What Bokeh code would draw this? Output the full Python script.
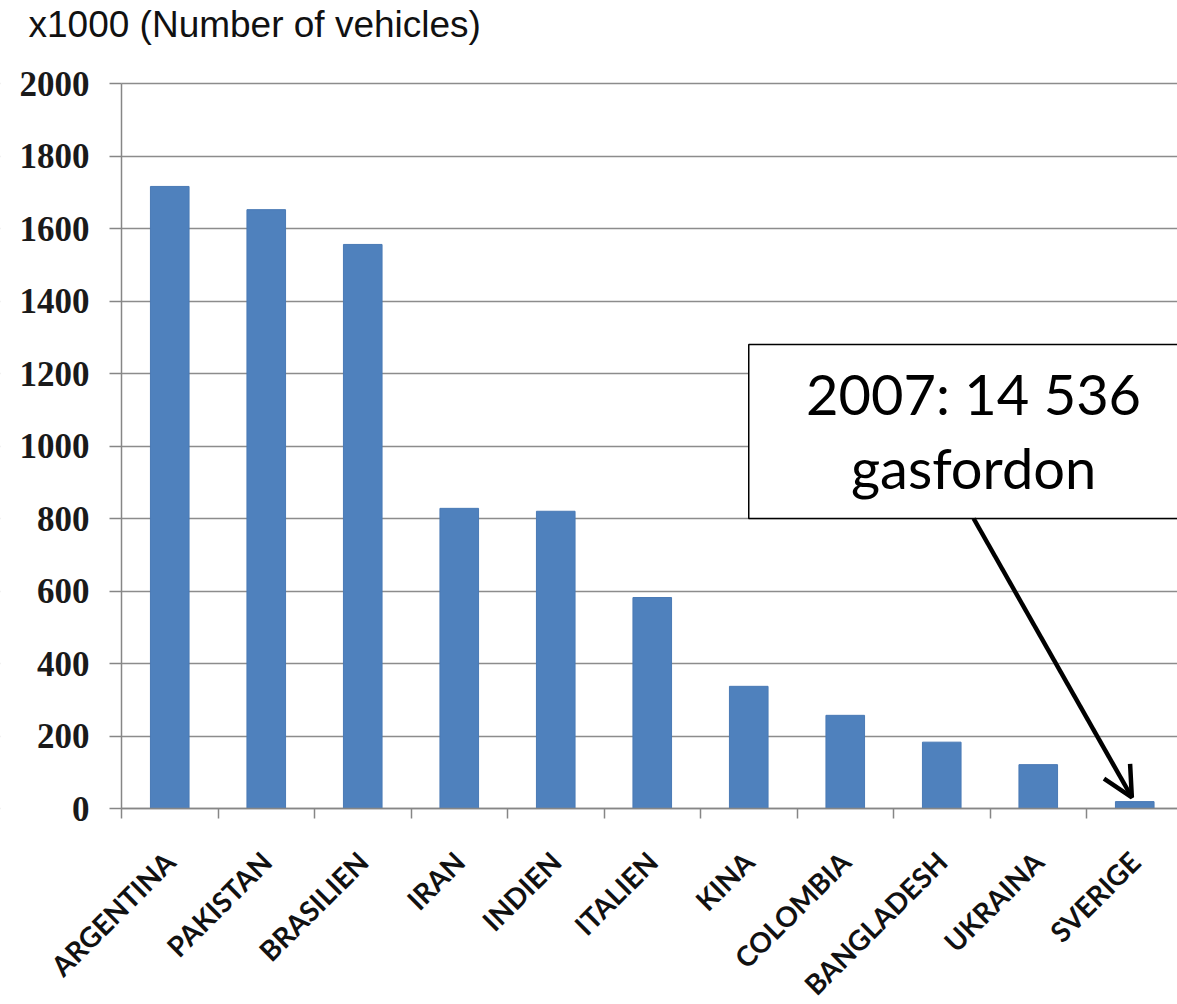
import math
from bokeh.plotting import figure
from bokeh.models import (Range1d, FixedTicker, BoxAnnotation, Label,
                          Arrow, OpenHead, ColumnDataSource)
from bokeh.embed import file_html
from bokeh.resources import INLINE

countries = ["ARGENTINA", "PAKISTAN", "BRASILIEN", "IRAN", "INDIEN", "ITALIEN",
             "KINA", "COLOMBIA", "BANGLADESH", "UKRAINA", "SVERIGE"]
vehicles = [1716, 1652, 1556, 828, 820, 582, 337, 257, 183, 121, 19]
y_ticks = [0, 200, 400, 600, 800, 1000, 1200, 1400, 1600, 1800, 2000]
title_text = "x1000 (Number of vehicles)"
note_line1 = "2007: 14 536"
note_line2 = "gasfordon"

idx = list(range(len(countries)))
src = ColumnDataSource(dict(x=idx, top=vehicles))

# pixel geometry: value 2000 at y=83, value 0 at y=808; category pitch 96.5 px,
# value axis at x=121; the frame covers the whole canvas
ppu = 725 / 2000.0
pitch = 96.5
y_top = 2000 + 83 / ppu
y_bot = -(1004 - 808) / ppu
x_start = -0.5 - 121 / pitch
x_end = -0.5 + (1177 - 121) / pitch

p = figure(width=1177, height=1004, output_backend="svg", toolbar_location=None,
           x_range=Range1d(x_start, x_end), y_range=Range1d(y_bot, y_top),
           min_border=0, min_border_left=0, min_border_right=0,
           min_border_top=0, min_border_bottom=0)
p.outline_line_color = None
p.background_fill_color = "white"
p.border_fill_color = "white"

p.vbar(x="x", top="top", width=0.40, bottom=0, source=src,
       fill_color="#4F81BD", line_color="#4A7AB5", line_width=1)

# category axis drawn at value 0
xa = p.xaxis[0]
xa.fixed_location = 0
xa.bounds = (-0.5, len(countries) - 0.5)
xa.ticker = FixedTicker(ticks=idx, minor_ticks=[i - 0.5 for i in range(len(countries) + 1)])
xa.major_label_overrides = {i: c for i, c in enumerate(countries)}
xa.major_label_orientation = math.pi / 4
xa.major_tick_line_color = None
xa.minor_tick_line_color = "#868686"
xa.minor_tick_line_width = 1.5
xa.minor_tick_in = 0
xa.minor_tick_out = 10
xa.axis_line_color = "#868686"
xa.axis_line_width = 1.5
xa.major_label_text_font = "Lato"
xa.major_label_text_font_style = "bold"
xa.major_label_text_font_size = "28px"
xa.major_label_text_color = "#111111"
xa.major_label_standoff = 38

# value axis drawn at the left edge of the first category
ya = p.yaxis[0]
ya.fixed_location = -0.5
ya.bounds = (0, 2000)
ya.ticker = FixedTicker(ticks=y_ticks)
ya.minor_tick_line_color = None
ya.major_tick_in = 0
ya.major_tick_out = 12
ya.major_tick_line_color = "#868686"
ya.major_tick_line_width = 1.5
ya.axis_line_color = "#868686"
ya.axis_line_width = 1.5
ya.major_label_text_font = "Liberation Serif"
ya.major_label_text_font_style = "bold"
ya.major_label_text_font_size = "35px"
ya.major_label_text_color = "#1a1a1a"
ya.major_label_standoff = 20

p.xgrid.grid_line_color = None
p.ygrid.ticker = FixedTicker(ticks=y_ticks)
p.ygrid.grid_line_color = "#8c8c8c"
p.ygrid.grid_line_width = 1.5

# white mask so the gridlines start at the value axis
p.add_layout(BoxAnnotation(left=x_start - 1, right=-0.5, bottom=y_bot - 10, top=y_top + 10,
                           fill_color="white", fill_alpha=1.0, line_color=None,
                           level="glyph"))

# title
p.add_layout(Label(x=-0.5, y=2000, x_offset=-93, y_offset=59, text=title_text,
                   text_align="left", text_baseline="alphabetic",
                   text_font="Liberation Sans", text_font_size="37px",
                   text_color="#111111"))

# annotation box
box = BoxAnnotation(left=6.0, right=12, bottom=800, top=1280,
                    fill_color="white", fill_alpha=1.0,
                    line_color="black", line_width=1.5, line_alpha=1.0)
p.add_layout(box)

for txt, yy in [(note_line1, 1145), (note_line2, 940)]:
    p.add_layout(Label(x=8.33, y=yy, text=txt, text_align="center",
                       text_baseline="alphabetic", text_font="Lato",
                       text_font_size="56px", text_color="black"))

target = len(countries) - 1
p.add_layout(Arrow(x_start=8.33, y_start=800, x_end=target - 0.03,
                   y_end=vehicles[target] + 12, line_width=4.5, line_color="black",
                   end=OpenHead(size=30, line_width=4.5, line_color="black")))

open("out.html", "w").write(file_html(p, INLINE))
